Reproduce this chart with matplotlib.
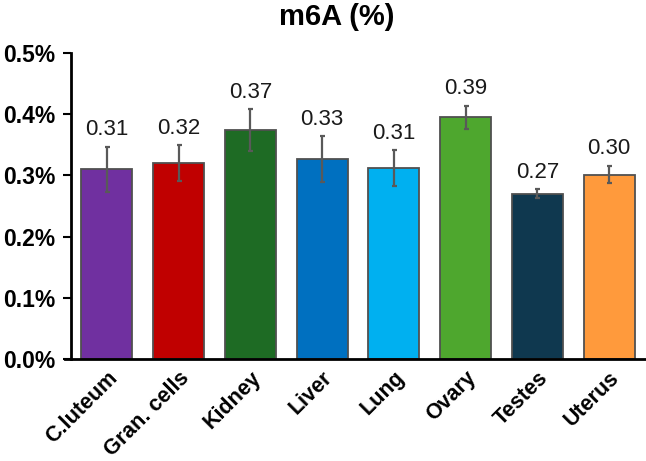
import matplotlib
matplotlib.use("Agg")
import matplotlib.pyplot as plt
import numpy as np

categories = ["C.luteum", "Gran. cells", "Kidney", "Liver", "Lung", "Ovary", "Testes", "Uterus"]
values = [0.310, 0.320, 0.374, 0.327, 0.312, 0.395, 0.270, 0.301]
errors = [0.037, 0.029, 0.034, 0.037, 0.029, 0.019, 0.007, 0.014]
labels = ["0.31", "0.32", "0.37", "0.33", "0.31", "0.39", "0.27", "0.30"]
colors = ["#7030A0", "#C00000", "#1E6B24", "#0070C0", "#00B0F0", "#4EA72E", "#0F384F", "#FF9A3C"]
yticks = [0.0, 0.1, 0.2, 0.3, 0.4, 0.5]
ytick_labels = ["0.0%", "0.1%", "0.2%", "0.3%", "0.4%", "0.5%"]

plt.rcParams['font.family'] = ['Liberation Sans', 'DejaVu Sans']

W, H = 646, 461
fig = plt.figure(figsize=(W/100, H/100), dpi=100)
ax = fig.add_axes([71/W, 1-359/H, (645-71)/W, (359-53)/H])

x = np.arange(len(categories))
ax.bar(x, values, width=0.71, color=colors, edgecolor="#505050", linewidth=1.3, zorder=2)
ax.errorbar(x, values, yerr=errors, fmt="none", ecolor="#595959", elinewidth=1.6,
            capsize=1.8, capthick=1.6, zorder=3)
for xi, v, e, lab in zip(x, values, errors, labels):
    ax.text(xi, v + e + 0.011, lab, ha="center", va="bottom", fontsize=16, color="#1a1a1a")

ax.set_xlim(-0.5, 7.5)
ax.set_ylim(0, 0.5)
ax.set_yticks(yticks)
ax.set_yticklabels(ytick_labels, fontsize=16.5, fontweight="bold")
ax.set_xticks(x)
ax.set_xticklabels(categories, fontsize=15.5, fontweight="bold", rotation=45, ha="right",
                   rotation_mode="anchor")
ax.tick_params(axis="x", length=0, pad=6)
ax.tick_params(axis="y", length=6, width=1.5, direction="out", pad=5)

for s in ["top", "right"]:
    ax.spines[s].set_visible(False)
for s in ["left", "bottom"]:
    ax.spines[s].set_linewidth(2)
ax.spines["bottom"].set_bounds(-0.58, 7.5)

fig.text(337/W, 1-17/H, "m6A (%)", ha="center", va="center", fontsize=21, fontweight="bold")

fig.savefig("out.png", dpi=100)
